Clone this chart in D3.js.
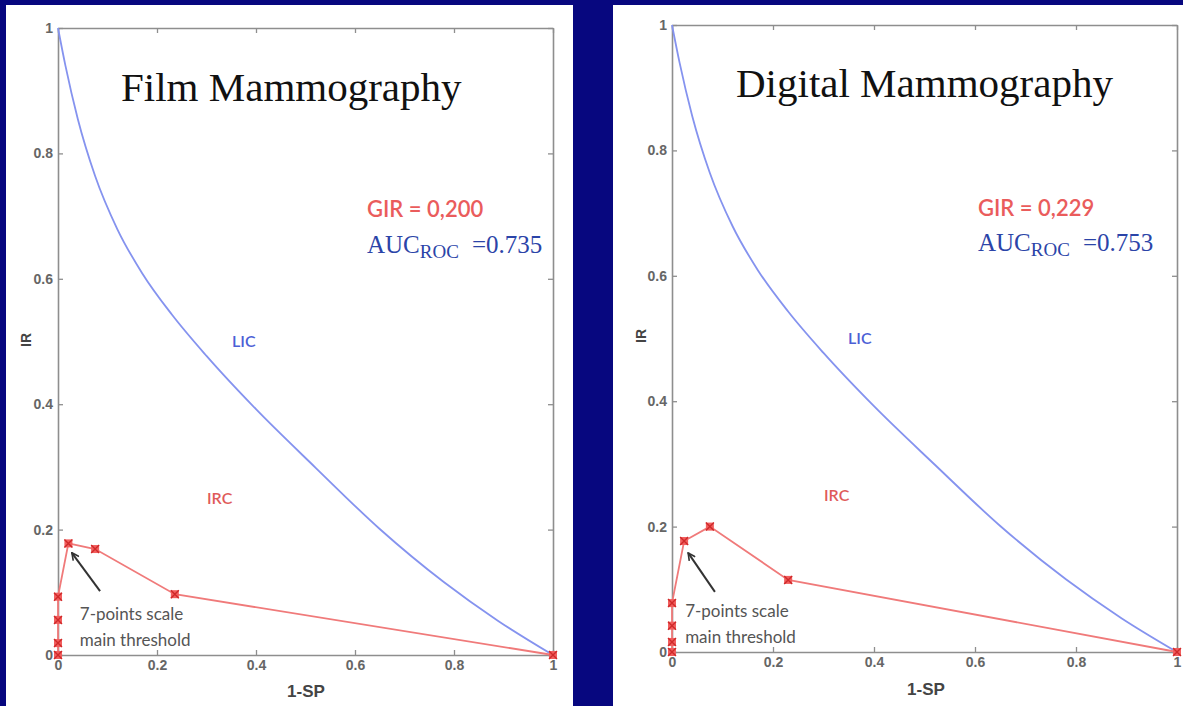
<!DOCTYPE html>
<html>
<head>
<meta charset="utf-8">
<script src="https://cdn.jsdelivr.net/npm/d3@7"></script>
<style>
  body { margin: 0; background: #07077f; }
  svg { display: block; }
</style>
</head>
<body>
<div id="graph"></div>
<script>
const width = 1183
const height = 706

// values
const ticks = [0, 0.2, 0.4, 0.6, 0.8, 1]
const licX = [0, 0.015, 0.04, 0.075, 0.12, 0.17, 0.23, 0.30, 0.40, 0.52, 0.65, 0.78, 0.89, 1]
const licY = [1, 0.94, 0.855, 0.764, 0.679, 0.609, 0.543, 0.477, 0.392, 0.299, 0.201, 0.116, 0.054, 0]

const filmIrcX = [0, 0, 0, 0, 0.021, 0.075, 0.236, 1]
const filmIrcY = [0, 0.019, 0.056, 0.093, 0.178, 0.169, 0.097, 0]
const digitalIrcX = [0, 0, 0, 0, 0.024, 0.075, 0.23, 1]
const digitalIrcY = [0, 0.016, 0.042, 0.078, 0.177, 0.200, 0.115, 0]

const titles = ["Film Mammography", "Digital Mammography"]
const girLabels = ["GIR = 0,200", "GIR = 0,229"]
const aucValues = ["=0.735", "=0.753"]

const svg = d3.select("#graph").append("svg")
    .attr("width", width)
    .attr("height", height)

svg.append("rect").attr("width", width).attr("height", height).attr("fill", "#07077f")

const panels = [
    {
        bg: [6, 5, 567, 701],
        left: 58, right: 553, top: 28, bottom: 655,
        title: titles[0], titleX: 121, titleY: 101,
        gir: girLabels[0], auc: aucValues[0], statX: 367, girY: 217, aucY: 253,
        licLabel: [232, 347], ircLabel: [207, 504],
        irc: filmIrcX.map((x, i) => [x, filmIrcY[i]]),
        arrow: [[0.085, 0.102], [0.028, 0.163]], note: [0.044, 0.056, 0.014],
        irX: 26, irY: 340, spX: 306, spY: 697
    },
    {
        bg: [613, 5, 570, 701],
        left: 672, right: 1177, top: 25, bottom: 652,
        title: titles[1], titleX: 736, titleY: 97,
        gir: girLabels[1], auc: aucValues[1], statX: 978, girY: 216, aucY: 251,
        licLabel: [848, 344], ircLabel: [824, 501],
        irc: digitalIrcX.map((x, i) => [x, digitalIrcY[i]]),
        arrow: [[0.085, 0.096], [0.032, 0.158]], note: [0.026, 0.056, 0.014],
        irX: 641, irY: 336, spX: 926, spY: 695
    }
]

const defs = svg.append("defs")
defs.append("marker")
    .attr("id", "head")
    .attr("viewBox", "0 0 10 10")
    .attr("refX", 9).attr("refY", 5)
    .attr("markerWidth", 9).attr("markerHeight", 9)
    .attr("markerUnits", "userSpaceOnUse")
    .attr("orient", "auto")
    .append("path")
    .attr("d", "M1,1 L9,5 L1,9")
    .attr("fill", "none")
    .attr("stroke", "#333")
    .attr("stroke-width", 1.8)

panels.forEach((p, idx) => {
    svg.append("rect")
        .attr("x", p.bg[0]).attr("y", p.bg[1])
        .attr("width", p.bg[2]).attr("height", p.bg[3])
        .attr("fill", "white")

    const x = d3.scaleLinear().domain([0, 1]).range([p.left, p.right])
    const y = d3.scaleLinear().domain([0, 1]).range([p.bottom, p.top])
    const g = svg.append("g")

    const fmt = d => String(d)

    // box axes, ticks pointing inward
    const axes = [
        [d3.axisBottom(x).tickValues(ticks).tickFormat(fmt), `translate(0,${p.bottom})`],
        [d3.axisLeft(y).tickValues(ticks).tickFormat(fmt), `translate(${p.left},0)`],
        [d3.axisTop(x).tickValues(ticks).tickFormat(""), `translate(0,${p.top})`],
        [d3.axisRight(y).tickValues(ticks).tickFormat(""), `translate(${p.right},0)`]
    ]
    axes.forEach(([ax, tr]) => {
        const a = g.append("g")
            .attr("transform", tr)
            .call(ax.tickSizeInner(-5).tickSizeOuter(0).tickPadding(5))
        a.select(".domain").attr("stroke", "#8e8e8e").attr("stroke-width", 1.6)
        a.selectAll(".tick line").attr("stroke", "#8e8e8e").attr("stroke-width", 1.3)
        a.selectAll(".tick text")
            .attr("fill", "#666")
            .attr("font-family", "Liberation Sans, Arial, sans-serif")
            .attr("font-weight", "bold")
            .attr("font-size", 14)
    })

    // LIC
    g.append("path")
        .datum(licX.map((v, i) => [v, licY[i]]))
        .attr("d", d3.line().x(d => x(d[0])).y(d => y(d[1])).curve(d3.curveMonotoneX))
        .attr("fill", "none")
        .attr("stroke", "#8593ef")
        .attr("stroke-width", 1.8)

    // IRC
    g.append("path")
        .datum(p.irc)
        .attr("d", d3.line().x(d => x(d[0])).y(d => y(d[1])))
        .attr("fill", "none")
        .attr("stroke", "#f07a7a")
        .attr("stroke-width", 1.8)

    const mk = g.append("g").selectAll("g")
        .data(p.irc)
        .join("g")
        .attr("transform", d => `translate(${x(d[0])},${y(d[1])})`)
    mk.append("rect")
        .attr("x", -4).attr("y", -4).attr("width", 8).attr("height", 8)
        .attr("fill", "#f25e5e")
    mk.append("path")
        .attr("d", "M-4,-4L4,4M-4,4L4,-4")
        .attr("stroke", "#cf2a2a")
        .attr("stroke-width", 1.4)

    // arrow + note
    g.append("line")
        .attr("x1", x(p.arrow[0][0])).attr("y1", y(p.arrow[0][1]))
        .attr("x2", x(p.arrow[1][0])).attr("y2", y(p.arrow[1][1]))
        .attr("stroke", "#333")
        .attr("stroke-width", 2)
        .attr("marker-end", "url(#head)")

    const note = g.append("g")
        .attr("font-family", "Lato, Open Sans, sans-serif")
        .attr("font-size", 17)
        .attr("fill", "#555")
    note.append("text").attr("x", x(p.note[0])).attr("y", y(p.note[1])).text("7-points scale")
    note.append("text").attr("x", x(p.note[0])).attr("y", y(p.note[2])).text("main threshold")

    // title
    g.append("text")
        .attr("x", p.titleX).attr("y", p.titleY)
        .attr("font-family", "Liberation Serif, Times New Roman, serif")
        .attr("font-size", 41)
        .attr("fill", "#111")
        .text(p.title)

    // GIR / AUC
    g.append("text")
        .attr("x", p.statX).attr("y", p.girY)
        .attr("font-family", "Lato, Open Sans, sans-serif")
        .attr("font-size", 22)
        .attr("font-weight", 600)
        .attr("fill", "#ea5c5c")
        .text(p.gir)

    const auc = g.append("text")
        .attr("x", p.statX).attr("y", p.aucY)
        .attr("font-family", "Liberation Serif, Times New Roman, serif")
        .attr("font-size", 25)
        .attr("fill", "#2b44a8")
    auc.append("tspan").text("AUC")
    auc.append("tspan").attr("font-size", 19).attr("dy", 5).text("ROC")
    auc.append("tspan").attr("dy", -5).attr("dx", 13).text(p.auc)

    // curve labels
    g.append("text")
        .attr("x", p.licLabel[0]).attr("y", p.licLabel[1])
        .attr("font-family", "Lato, Open Sans, sans-serif")
        .attr("font-size", 16)
        .attr("font-weight", 600)
        .attr("fill", "#4c5fd6")
        .text("LIC")
    g.append("text")
        .attr("x", p.ircLabel[0]).attr("y", p.ircLabel[1])
        .attr("font-family", "Lato, Open Sans, sans-serif")
        .attr("font-size", 16)
        .attr("font-weight", 600)
        .attr("fill", "#e05a5a")
        .text("IRC")

    // axis titles
    g.append("text")
        .attr("transform", `translate(${p.irX},${p.irY}) rotate(-90)`)
        .attr("text-anchor", "middle")
        .attr("dy", "0.35em")
        .attr("font-family", "Liberation Sans, Arial, sans-serif")
        .attr("font-weight", "bold")
        .attr("font-size", 14)
        .attr("fill", "#444")
        .text("IR")
    g.append("text")
        .attr("x", p.spX).attr("y", p.spY)
        .attr("text-anchor", "middle")
        .attr("font-family", "Liberation Sans Narrow, Arial, sans-serif")
        .attr("font-weight", "bold")
        .attr("font-size", 17)
        .attr("fill", "#444")
        .text("1-SP")
})
</script>
</body>
</html>
